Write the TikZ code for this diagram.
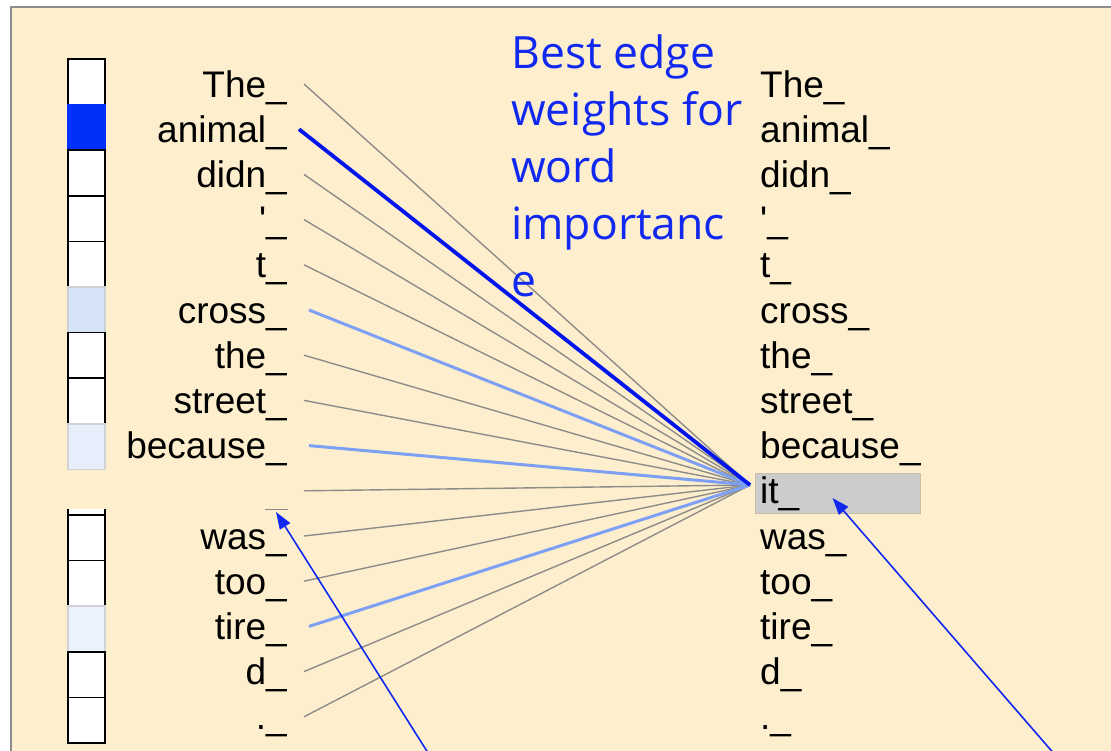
\documentclass[tikz,border=0pt]{standalone}
\usepackage{fontspec}
\setmainfont{Liberation Sans}
\newfontfamily\tokfont{Liberation Sans}
\newfontfamily\notefont{Open Sans}
\usetikzlibrary{arrows.meta}

\definecolor{paper}{HTML}{FDEFCD}
\definecolor{noteblue}{RGB}{16,40,240}
\definecolor{strongblue}{RGB}{0,20,235}
\definecolor{weakblue}{RGB}{125,160,245}
\definecolor{linkgray}{HTML}{8E8C88}
\definecolor{wA}{HTML}{0030FA}
\definecolor{wB}{HTML}{D6E4F8}
\definecolor{wC}{HTML}{E6EDFB}
\definecolor{wD}{HTML}{EAF3FD}

\begin{document}
\begin{tikzpicture}[x=1pt, y=-1pt,
  >={Triangle[length=17pt, width=12pt]},
  word/.style={inner sep=0pt, text height=26pt, text depth=0pt,
    font=\tokfont\fontsize{37}{40}\selectfont},
  note/.style={inner sep=0pt, align=left, text=noteblue,
    font=\notefont\fontsize{44.5}{57}\selectfont},
  cell/.style={line width=1.5pt, minimum width=37pt, minimum height=45.6pt, inner sep=0pt},
  link/.style={draw=linkgray, line width=1.4pt},
  weak/.style={draw=weakblue, line width=3pt},
  strong/.style={draw=strongblue, line width=3.8pt},
  pointer/.style={->, draw=noteblue, fill=noteblue, line width=1.6pt}]
  \useasboundingbox (0,0) rectangle (1111,750);
  \fill[paper] (11,7) rectangle (1115,755);
  \draw[black!45, line width=1.6pt] (11,755) -- (11,7) -- (1115,7);

  % weight column
  \foreach \c/\d [count=\k from 0] in {white/black, wA/wA, white/black, white/black,
      white/black, wB/wB!60!black!40, white/black, white/black, wC/wC!60!black!40,
      none/none, white/black, white/black, wD/wD!60!black!40, white/black, white/black} {
    \ifnum\k=9\relax\else
      \node[cell, fill=\c, draw=\d] (c\k) at (86.5, 81.8+45.6*\k) {};
    \fi
  }
  \fill[white] (68,509) rectangle (105,515);
  \draw[line width=1.5pt] (68,509) -- (68,515) -- (105,515) -- (105,509);

  % highlighted query word
  \node[fill=black!20, draw=paper!80!black, line width=1pt,
    minimum width=165pt, minimum height=40pt, inner sep=0pt] (itbox) at (837.5,493) {};

  % tokens
  \foreach \w [count=\k from 0] in {The\_, animal\_, didn\_, '\_, t\_, cross\_,
      the\_, street\_, because\_, it\_, was\_, too\_, tire\_, d\_, .\_} {
    \ifnum\k=9\relax
      \coordinate (L\k) at (287, 490.8);
    \else
      \node[word, anchor=base east] (L\k) at (287, 97+45.2*\k) {\w};
    \fi
    \node[word, anchor=base west] (R\k) at (760, 97+45.2*\k) {\w};
  }
  \coordinate (hub) at (750,485);
  \coordinate (gap) at (276,512);
  \draw[linkgray, line width=0.8pt] (265,509) -- (288,509);

  % attention edges
  \foreach \k in {0,2,3,4,6,7,9,10,11,13,14}
    \draw[link] ([xshift=17pt]L\k.east) -- (hub);
  \foreach \k in {5,8,12}
    \draw[weak] ([xshift=22pt]L\k.east) -- (hub);
  \draw[strong] ([xshift=12pt]L1.east) -- (hub);

  \node[note, anchor=north west] (title) at (511,34)
    {Best edge\\weights for\\word\\importanc\\e};

  \coordinate (tailL) at (430,756);
  \coordinate (tailR) at (1056,756);
  \draw[pointer] (tailL) -- (gap);
  \draw[pointer] (tailR) -- ([shift={(-5pt,-5pt)}]itbox.center);
\end{tikzpicture}
\end{document}
